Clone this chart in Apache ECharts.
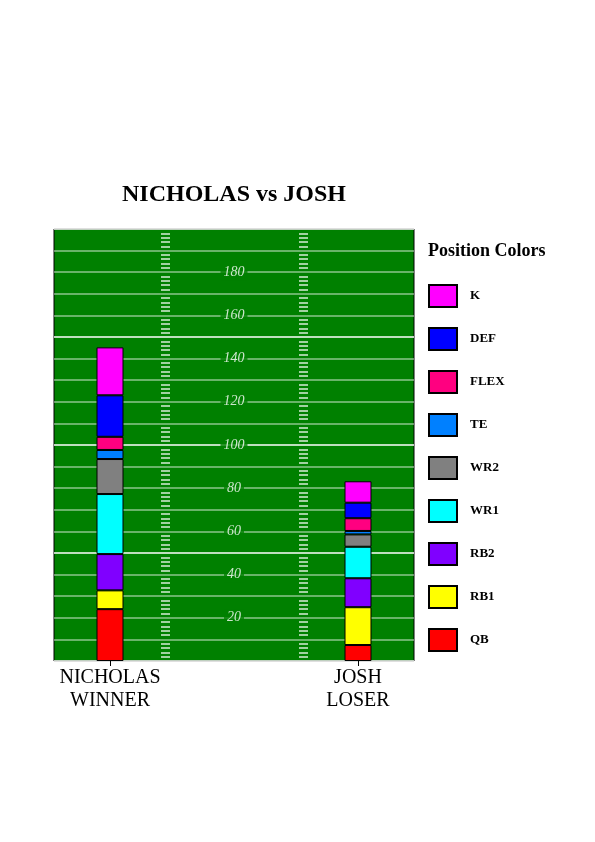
<!DOCTYPE html>
<html>
<head>
<meta charset="utf-8">
<script src="https://cdn.jsdelivr.net/npm/echarts@6/dist/echarts.min.js"></script>
<style>
html,body{margin:0;padding:0;background:#fff;}
#chart{width:595px;height:842px;}
</style>
</head>
<body>
<div id="chart"></div>
<script>
var categories = ['NICHOLAS\nWINNER', 'JOSH\nLOSER'];
var positions = ['QB', 'RB1', 'RB2', 'WR1', 'WR2', 'TE', 'FLEX', 'DEF', 'K'];
var colors = ['#ff0000', '#ffff00', '#8000ff', '#00ffff', '#808080', '#0080ff', '#ff0080', '#0000ff', '#ff00ff'];
var QB   = [24.0, 7.4];
var RB1  = [8.7, 17.5];
var RB2  = [16.8, 13.4];
var WR1  = [27.8, 14.6];
var WR2  = [16.2, 5.7];
var TE   = [4.2, 1.6];
var FLEX = [6.1, 5.9];
var DEF  = [19.2, 7.2];
var K    = [22.2, 9.9];
var tickLabels = [20, 40, 60, 80, 100, 120, 140, 160, 180];

var seriesValues = [QB, RB1, RB2, WR1, WR2, TE, FLEX, DEF, K];
var SERIF = '"Liberation Serif", "DejaVu Serif", serif';
var GREEN = '#008000';
var plotTop = 229, plotH = 432;

var series = positions.map(function (p, i) {
  return {
    name: p,
    type: 'bar',
    stack: 'total',
    xAxisIndex: 1,
    yAxisIndex: 1,
    barWidth: 27,
    itemStyle: { color: colors[i], borderColor: '#000', borderWidth: 1 },
    data: seriesValues[i],
    z: 5
  };
});

series.push({
  type: 'scatter',
  xAxisIndex: 0,
  yAxisIndex: 0,
  symbolSize: 0,
  silent: true,
  data: tickLabels.map(function (v) { return [0.5, v]; }),
  label: {
    show: true,
    position: 'inside',
    formatter: function (p) { return p.value[1]; },
    color: '#fff',
    fontFamily: SERIF,
    fontStyle: 'italic',
    fontSize: 14,
    backgroundColor: GREEN,
    padding: [1, 3]
  },
  z: 4
});

var hashSplit = {
  show: true,
  lineStyle: {
    width: 1.5,
    color: ['rgba(0,0,0,0)', 'rgba(255,255,255,0.85)', 'rgba(255,255,255,0.85)', 'rgba(255,255,255,0.85)', 'rgba(255,255,255,0.85)']
  }
};

var option = {
  animation: false,
  title: [
    {
      text: 'NICHOLAS vs JOSH',
      left: 234,
      top: 183,
      padding: 0,
      textAlign: 'center',
      textStyle: { fontFamily: SERIF, fontWeight: 'bold', fontSize: 24, color: '#000' }
    },
    {
      text: 'Position Colors',
      left: 428,
      top: 242,
      padding: 0,
      textStyle: { fontFamily: SERIF, fontWeight: 'bold', fontSize: 18, color: '#000' }
    }
  ],
  legend: {
    orient: 'vertical',
    left: 428,
    top: 284,
    padding: 0,
    itemWidth: 28,
    itemHeight: 22,
    itemGap: 19,
    selectedMode: false,
    icon: 'rect',
    data: positions.slice().reverse(),
    textStyle: { fontFamily: SERIF, fontWeight: 'bold', fontSize: 13, color: '#000', padding: [0, 0, 0, 8] }
  },
  grid: [
    { left: 54, top: plotTop, width: 360, height: plotH, show: true, backgroundColor: GREEN, borderColor: '#000', borderWidth: 1, outerBoundsMode: 'none' },
    { left: -14, top: plotTop, width: 496, height: plotH, outerBoundsMode: 'none', containLabel: false },
    { left: 161, top: plotTop, width: 9, height: plotH, outerBoundsMode: 'none' },
    { left: 299, top: plotTop, width: 9, height: plotH, outerBoundsMode: 'none' }
  ],
  xAxis: [
    { gridIndex: 0, type: 'value', min: 0, max: 1, show: false },
    {
      gridIndex: 1, type: 'category', data: categories,
      axisLine: { show: false },
      axisTick: { show: true, alignWithLabel: true, length: 5, lineStyle: { color: '#000', width: 1 } },
      axisLabel: { fontFamily: SERIF, fontSize: 20, color: '#000', lineHeight: 23, margin: 5, interval: 0 }
    },
    { gridIndex: 2, type: 'value', min: 0, max: 1, show: false },
    { gridIndex: 3, type: 'value', min: 0, max: 1, show: false }
  ],
  yAxis: [
    {
      gridIndex: 0, type: 'value', min: 0, max: 200, interval: 10,
      axisLine: { show: false }, axisTick: { show: false }, axisLabel: { show: false },
      splitLine: {
        show: true,
        lineStyle: {
          width: 1.5,
          color: ['#ffffff', 'rgba(255,255,255,0.55)', 'rgba(255,255,255,0.55)', 'rgba(255,255,255,0.55)', 'rgba(255,255,255,0.55)']
        }
      }
    },
    { gridIndex: 1, type: 'value', min: 0, max: 200, show: false },
    {
      gridIndex: 2, type: 'value', min: 0, max: 200, interval: 2,
      axisLine: { show: false }, axisTick: { show: false }, axisLabel: { show: false },
      splitLine: hashSplit
    },
    {
      gridIndex: 3, type: 'value', min: 0, max: 200, interval: 2,
      axisLine: { show: false }, axisTick: { show: false }, axisLabel: { show: false },
      splitLine: hashSplit
    }
  ],
  series: series
};

var chart = echarts.init(document.getElementById('chart'), null, { renderer: 'canvas' });
chart.setOption(option);
</script>
</body>
</html>
